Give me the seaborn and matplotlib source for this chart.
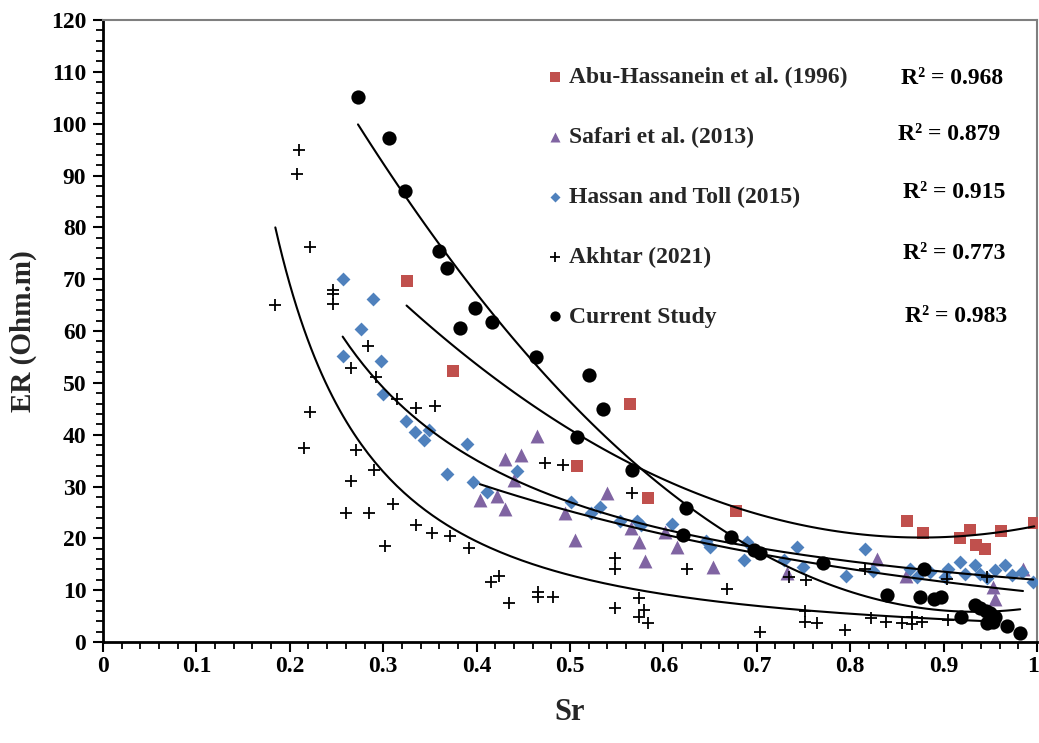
import numpy as np
import pandas as pd
import matplotlib
matplotlib.use("Agg")
import matplotlib.pyplot as plt
import matplotlib.transforms as mtransforms
import seaborn as sns
from matplotlib.ticker import MultipleLocator

# ---------------- data ----------------
abu_x = [0.325, 0.375, 0.507, 0.564, 0.583, 0.678, 0.861, 0.878, 0.918, 0.928, 0.935, 0.944, 0.961, 0.997]
abu_y = [69.7, 52.2, 34.0, 45.9, 27.7, 25.3, 23.3, 21.1, 20.0, 21.6, 18.7, 17.9, 21.5, 23.0]

saf_x = [0.4036, 0.4215, 0.430, 0.430, 0.448, 0.465, 0.440, 0.495, 0.5056, 0.540, 0.565, 0.574,
         0.580, 0.602, 0.6145, 0.653, 0.732, 0.829, 0.860, 0.9526, 0.955, 0.985]
saf_y = [27.4, 28.2, 25.7, 35.4, 36.1, 39.7, 31.3, 24.8, 19.7, 28.8, 21.9, 19.3,
         15.7, 21.3, 18.4, 14.4, 13.4, 16.0, 12.8, 10.7, 8.3, 14.0]

has_x = [0.2566, 0.289, 0.276, 0.2566, 0.298, 0.300, 0.324, 0.334, 0.344, 0.349, 0.390, 0.368,
         0.396, 0.411, 0.443, 0.5015, 0.532, 0.523, 0.554, 0.572, 0.576, 0.609, 0.646, 0.6495,
         0.690, 0.686, 0.7287, 0.7435, 0.749, 0.795, 0.8163, 0.8243, 0.864, 0.871, 0.8854, 0.901,
         0.905, 0.9176, 0.923, 0.9336, 0.939, 0.946, 0.955, 0.9657, 0.973, 0.984, 0.996]
has_y = [70.0, 66.1, 60.3, 55.2, 54.3, 47.8, 42.7, 40.6, 39.0, 40.9, 38.2, 32.5,
         30.9, 29.0, 33.0, 27.0, 26.1, 24.8, 23.3, 23.3, 22.6, 22.8, 19.5, 18.4,
         19.2, 15.8, 15.8, 18.4, 14.5, 12.8, 17.9, 13.7, 14.0, 12.6, 13.6, 12.6,
         14.0, 15.5, 13.2, 14.9, 13.2, 12.3, 13.9, 14.9, 12.9, 13.6, 11.6]

akh_x = [0.1845, 0.208, 0.210, 0.222, 0.222, 0.2156, 0.246, 0.246, 0.246, 0.260, 0.2655, 0.2655,
         0.271, 0.284, 0.285, 0.290, 0.292, 0.302, 0.310, 0.315, 0.335, 0.335, 0.352, 0.355,
         0.3715, 0.3915, 0.4154, 0.424, 0.435, 0.466, 0.466, 0.473, 0.4815, 0.4924, 0.548, 0.548,
         0.548, 0.5667, 0.574, 0.579, 0.574, 0.583, 0.6256, 0.668, 0.703, 0.735, 0.7527, 0.7516,
         0.7516, 0.764, 0.7944, 0.8163, 0.822, 0.838, 0.855, 0.866, 0.866, 0.8765, 0.905, 0.9035,
         0.946]
akh_y = [65.0, 90.3, 95.0, 76.2, 44.3, 37.4, 68.0, 67.2, 65.3, 24.9, 31.0, 52.8,
         37.0, 57.2, 24.9, 33.1, 51.2, 18.5, 26.6, 46.9, 45.1, 22.6, 21.0, 45.6,
         20.5, 18.1, 11.6, 12.7, 7.6, 9.7, 8.7, 34.6, 8.7, 34.2, 16.3, 14.0,
         6.5, 28.7, 8.5, 6.2, 4.9, 3.6, 14.1, 10.2, 1.9, 12.5, 12.0, 5.9,
         3.9, 3.6, 2.3, 14.0, 4.6, 3.9, 3.6, 4.8, 3.5, 3.9, 4.2, 12.1,
         12.6]

cur_x = [0.273, 0.306, 0.323, 0.360, 0.368, 0.398, 0.382, 0.417, 0.4636, 0.520, 0.5354, 0.508,
         0.5667, 0.6238, 0.621, 0.6724, 0.697, 0.703, 0.771, 0.8795, 0.839, 0.875, 0.8897, 0.897,
         0.9336, 0.939, 0.9454, 0.9497, 0.919, 0.947, 0.953, 0.955, 0.9676, 0.982]
cur_y = [105.1, 97.2, 87.0, 75.5, 72.2, 64.4, 60.5, 61.8, 54.9, 51.5, 44.9, 39.5,
         33.2, 25.9, 20.6, 20.2, 17.7, 17.1, 15.2, 14.0, 9.1, 8.7, 8.3, 8.6,
         7.1, 6.5, 6.0, 5.5, 4.9, 3.6, 3.9, 4.9, 3.0, 1.8]

series_names = ["Abu-Hassanein et al. (1996)", "Safari et al. (2013)",
                "Hassan and Toll (2015)", "Akhtar (2021)", "Current Study"]
r2_labels = ["R\u00b2 = 0.968", "R\u00b2 = 0.879", "R\u00b2 = 0.915", "R\u00b2 = 0.773", "R\u00b2 = 0.983"]
x_ticks = [0, 0.1, 0.2, 0.3, 0.4, 0.5, 0.6, 0.7, 0.8, 0.9, 1.0]
x_tick_labels = ["0", "0.1", "0.2", "0.3", "0.4", "0.5", "0.6", "0.7", "0.8", "0.9", "1"]
y_ticks = [0, 10, 20, 30, 40, 50, 60, 70, 80, 90, 100, 110, 120]

# ---------------- style ----------------
sns.set_theme(style="white")
plt.rcParams["font.family"] = ["Liberation Serif", "DejaVu Serif"]
plt.rcParams["font.weight"] = "bold"
plt.rcParams["axes.labelweight"] = "bold"

RED = "#C0504D"
PURPLE = "#8064A2"
BLUE = "#4F81BD"

W, H = 1039, 743
fig = plt.figure(figsize=(W / 100, H / 100), dpi=100)
ax = fig.add_axes([103 / W, 1 - 642 / H, (1037 - 103) / W, (642 - 20) / H])

# ---------------- scatter ----------------
sns.scatterplot(x=abu_x, y=abu_y, marker="s", color=RED, s=85, linewidth=0,
                label=series_names[0], ax=ax, zorder=3)
sns.scatterplot(x=saf_x, y=saf_y, marker="^", color=PURPLE, s=100, linewidth=0,
                label=series_names[1], ax=ax, zorder=3)
sns.scatterplot(x=has_x, y=has_y, marker="D", color=BLUE, s=50, linewidth=0,
                label=series_names[2], ax=ax, zorder=3)
sns.scatterplot(x=akh_x, y=akh_y, marker="+", color="black", s=85, linewidth=1.3,
                label=series_names[3], ax=ax, zorder=3)
sns.scatterplot(x=cur_x, y=cur_y, marker="o", color="black", s=105, linewidth=0,
                label=series_names[4], ax=ax, zorder=4)

# ---------------- trend lines ----------------
line_kws = dict(color="black", lw=1.5, zorder=5)
# polynomial (order 2) trends
sns.regplot(x=abu_x, y=abu_y, order=2, scatter=False, ci=None, truncate=True,
            line_kws=line_kws, ax=ax)
sns.regplot(x=cur_x, y=cur_y, order=2, scatter=False, ci=None, truncate=True,
            line_kws=line_kws, ax=ax)

def power_fit(xs, ys):
    xs, ys = np.asarray(xs), np.asarray(ys)
    b, lna = np.polyfit(np.log(xs), np.log(ys), 1)
    g = np.linspace(xs.min(), xs.max(), 200)
    return g, np.exp(lna) * g ** b

def exp_fit(xs, ys):
    xs, ys = np.asarray(xs), np.asarray(ys)
    b, lna = np.polyfit(xs, np.log(ys), 1)
    g = np.linspace(xs.min(), xs.max(), 200)
    return g, np.exp(lna) * np.exp(b * g)

for gx, gy in (power_fit(has_x, has_y), exp_fit(saf_x, saf_y), power_fit(akh_x, akh_y)):
    sns.lineplot(x=gx, y=gy, ax=ax, legend=False, **line_kws)

# ---------------- axes ----------------
ax.set_xlim(0, 1)
ax.set_ylim(0, 120)
ax.set_xticks(x_ticks)
ax.set_xticklabels(x_tick_labels)
ax.set_yticks(y_ticks)
ax.xaxis.set_minor_locator(MultipleLocator(0.02))
ax.yaxis.set_minor_locator(MultipleLocator(2))
ax.tick_params(axis="both", which="major", direction="out", length=7, width=1.5,
               labelsize=17, colors="black")
ax.tick_params(axis="y", which="major", pad=5)
ax.tick_params(axis="x", which="major", pad=3)
ax.tick_params(axis="both", which="minor", direction="out", length=5, width=1.3, colors="black")
ax.tick_params(bottom=True, left=True, top=False, right=False)
ax.tick_params(which="minor", bottom=True, left=True, top=False, right=False)
for lab in ax.get_xticklabels() + ax.get_yticklabels():
    lab.set_fontweight("bold")
# keep the last x tick label ("1") inside the canvas
last = ax.get_xticklabels()[-1]
last.set_transform(last.get_transform() + mtransforms.ScaledTranslation(-4 / 100, 0, fig.dpi_scale_trans))

for side in ["left", "bottom"]:
    ax.spines[side].set_color("black")
    ax.spines[side].set_linewidth(2)
for side in ["top", "right"]:
    ax.spines[side].set_color("#7f7f7f")
    ax.spines[side].set_linewidth(1.5)

ax.set_xlabel("Sr", fontsize=22, fontweight="bold", labelpad=15)
ax.set_ylabel("ER (Ohm.m)", fontsize=21, fontweight="bold", labelpad=10)

# ---------------- legend + R2 ----------------
handles, labels = ax.get_legend_handles_labels()
leg = ax.legend(handles[:5], labels[:5], loc="upper left",
                bbox_to_anchor=(548 / W, 1 - 67 / H), bbox_transform=fig.transFigure,
                frameon=False, fontsize=17, handlelength=0.6, handletextpad=0.3,
                labelspacing=1.62, borderpad=0, borderaxespad=0, markerscale=0.72)
for t in leg.get_texts():
    t.set_fontweight("bold")

r2_x = [1003, 1000, 1005, 1005, 1007]
r2_y = [78, 134, 193, 254, 316]
for lab, px, py in zip(r2_labels, r2_x, r2_y):
    fig.text(px / W, 1 - py / H, lab, ha="right", va="center", fontsize=17,
             fontweight="bold", color="black")

fig.savefig("out.png", dpi=100)
